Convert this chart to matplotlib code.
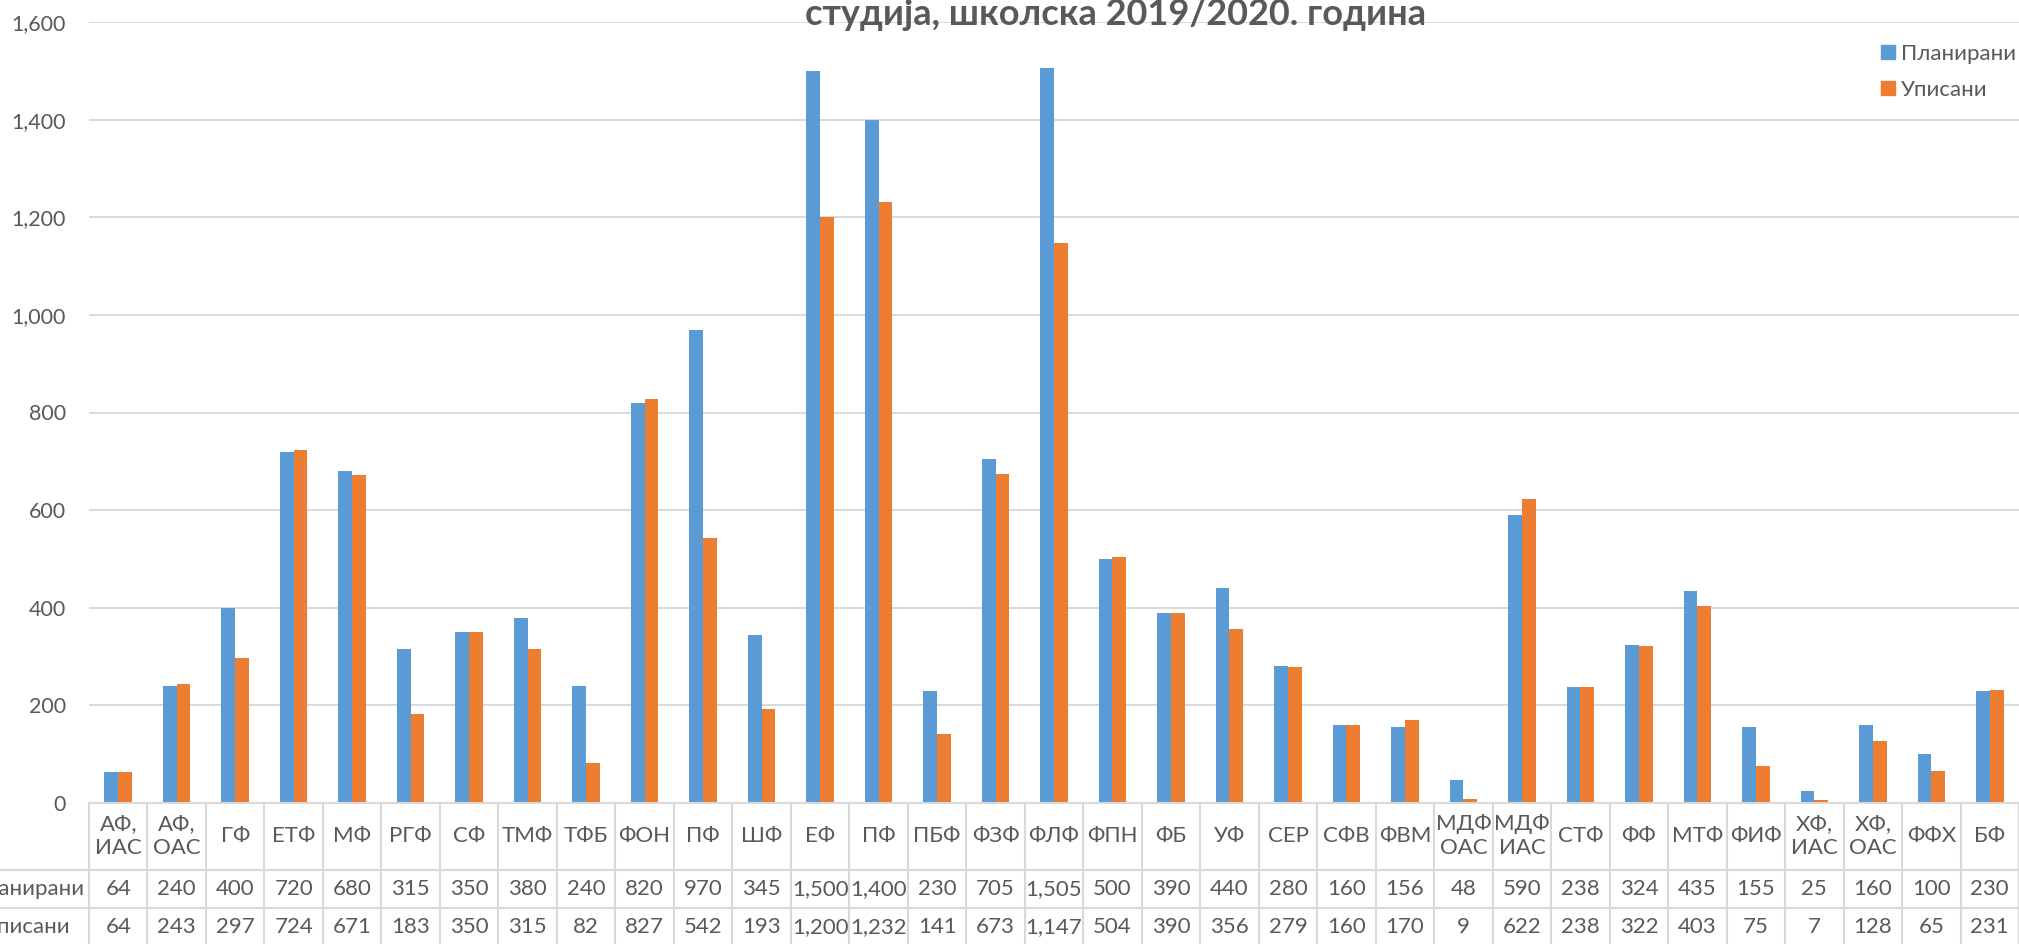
import matplotlib
matplotlib.use("Agg")
import matplotlib.pyplot as plt
import numpy as np
from matplotlib.transforms import blended_transform_factory
from matplotlib.patches import Patch

plt.rcParams["font.family"] = ["Lato", "Noto Sans", "DejaVu Sans"]

# Faculties (columns of the data table)
CATEGORIES = [
    "АФ,\nИАС", "АФ,\nОАС", "ГФ", "ЕТФ", "МФ", "РГФ", "СФ", "ТМФ", "ТФБ", "ФОН",
    "ПФ", "ШФ", "ЕФ", "ПФ", "ПБФ", "ФЗФ", "ФЛФ", "ФПН", "ФБ", "УФ",
    "СЕР", "СФВ", "ФВМ", "МДФ\nОАС", "МДФ\nИАС", "СТФ", "ФФ", "МТФ", "ФИФ", "ХФ,\nИАС",
    "ХФ,\nОАС", "ФФХ", "БФ",
]
PLANNED = [64, 240, 400, 720, 680, 315, 350, 380, 240, 820,
           970, 345, 1500, 1400, 230, 705, 1505, 500, 390, 440,
           280, 160, 156, 48, 590, 238, 324, 435, 155, 25,
           160, 100, 230]
ENROLLED = [64, 243, 297, 724, 671, 183, 350, 315, 82, 827,
            542, 193, 1200, 1232, 141, 673, 1147, 504, 390, 356,
            279, 160, 170, 9, 622, 238, 322, 403, 75, 7,
            128, 65, 231]
SERIES = ["Планирани", "Уписани"]
Y_TICKS = [0, 200, 400, 600, 800, 1000, 1200, 1400, 1600]
TITLE = "студија, школска 2019/2020. година"

BLUE = "#5b9bd5"
ORANGE = "#ed7d31"
GRID = "#d9d9d9"
TEXT = "#595959"

W, H = 2019, 944
fig = plt.figure(figsize=(W / 100, H / 100), dpi=100)

# axes placed in pixel terms
left, right, bottom, top = 89, 2019, 803, 22
ax = fig.add_axes([left / W, 1 - bottom / H, (right - left) / W, (bottom - top) / H])

x = np.arange(len(CATEGORIES))
bw = 0.235
ax.bar(x - bw / 2, PLANNED, bw, color=BLUE, zorder=3)
ax.bar(x + bw / 2, ENROLLED, bw, color=ORANGE, zorder=3)

ax.set_xlim(-0.5, len(CATEGORIES) - 0.5)
ax.set_ylim(0, 1600)
ax.set_yticks(Y_TICKS)
ax.set_yticklabels([f"{v:,}" for v in Y_TICKS])
ax.set_xticks([])
ax.tick_params(axis="y", length=0, pad=16.5, labelsize=15.5, labelcolor=TEXT)
ax.yaxis.grid(True, color=GRID, linewidth=1.4, zorder=0)
for s in ax.spines.values():
    s.set_visible(False)

# data table below the plot
tr = blended_transform_factory(ax.transData, fig.transFigure)
def fy(py):
    return 1 - py / H

row_top, row1, row2, row_end = 803, 870, 908, 946
ax.plot([-0.5, len(CATEGORIES) - 0.5], [fy(row_top)] * 2, transform=tr,
        color=GRID, lw=1.5, clip_on=False, zorder=4)
for yy in (row1, row2):
    fig.add_artist(plt.Line2D([0, 1], [fy(yy)] * 2, color=GRID, lw=1.5))
for i in range(len(CATEGORIES) + 1):
    ax.plot([i - 0.5, i - 0.5], [fy(row_top), fy(row_end)], transform=tr,
            color=GRID, lw=1.5, clip_on=False)

FS = 16
for i, cat in enumerate(CATEGORIES):
    ax.text(i, fy(836), cat, transform=tr, ha="center", va="center",
            fontsize=FS, color=TEXT, linespacing=1.25, clip_on=False)
    ax.text(i, fy(889), f"{PLANNED[i]:,}", transform=tr, ha="center", va="center",
            fontsize=FS, color=TEXT, clip_on=False)
    ax.text(i, fy(927), f"{ENROLLED[i]:,}", transform=tr, ha="center", va="center",
            fontsize=FS, color=TEXT, clip_on=False)

# row labels run off the left edge, as in the source
fig.text(27 / W, fy(889), SERIES[0], ha="center", va="center", fontsize=FS, color=TEXT)
fig.text(27 / W, fy(927), SERIES[1], ha="center", va="center", fontsize=FS, color=TEXT)

# title (first line falls outside the image)
fig.text(1116 / W, fy(25), TITLE, ha="center", va="baseline", fontsize=26,
         fontweight="bold", color=TEXT)

handles = [Patch(color=BLUE), Patch(color=ORANGE)]
leg = fig.legend(handles, SERIES, loc="upper left", bbox_to_anchor=(1881 / W, fy(44)),
                 frameon=False, fontsize=16, borderpad=0, borderaxespad=0,
                 handlelength=0.62, handleheight=0.62, handletextpad=0.3,
                 labelspacing=0.7)
for t in leg.get_texts():
    t.set_color(TEXT)

fig.savefig("out.png", dpi=100)
